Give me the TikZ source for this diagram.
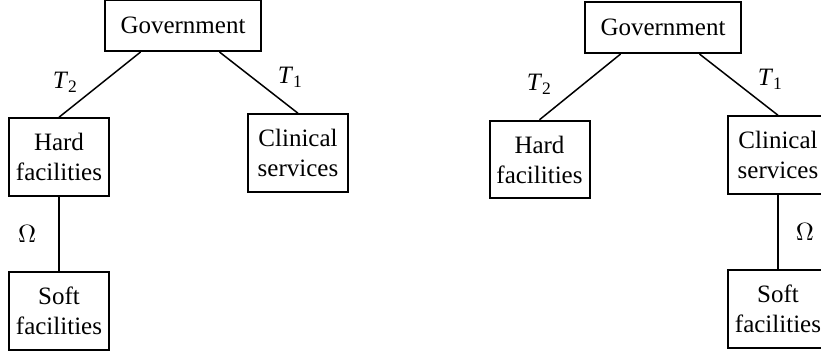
\documentclass[tikz,border=0pt]{standalone}
\usepackage{fontspec}
\setmainfont{Liberation Serif}
\tikzset{
  box/.style={draw, line width=0.8pt, align=center, minimum width=40pt, minimum height=31pt, inner sep=2pt},
  topbox/.style={draw, line width=0.8pt, minimum width=62.4pt, minimum height=20.4pt},
  link/.style={line width=0.6pt},
}
\newcommand{\Tlab}[1]{\textit{T}\textsubscript{#1}}

\begin{document}
\begin{tikzpicture}[x=0.4pt,y=-0.4pt]
    \useasboundingbox (0,0) rectangle (821,355);
    \clip (0,0) rectangle (821,355);

    % Left tree: soft facilities hang below hard facilities
    \node[topbox] (govL) at (183,25.5) {Government};
    \node[box] (hardL) at (59,157) {Hard\\facilities};
    \node[box] (clinL) at (298,153) {Clinical\\services};
    \node[box] (softL) at (59,311) {Soft\\facilities};

    \draw[link] (govL.212) -- (hardL.north) node[midway, left=5pt, yshift=1pt] {\Tlab{2}};
    \draw[link] (govL.324) -- (clinL.north) node[midway, right=4pt, yshift=2pt] {\Tlab{1}};
    \draw[link] (hardL.south) -- (softL.north) node[midway, left=5.5pt] {$\Omega$};

    % Right tree: soft facilities hang below clinical services
    \node[topbox] (govR) at (663,27.5) {Government};
    \node[box] (hardR) at (539.5,159.5) {Hard\\facilities};
    \node[box] (clinR) at (778,155) {Clinical\\services};
    \node[box] (softR) at (778,309) {Soft\\facilities};

    \draw[link] (govR.212) -- (hardR.north) node[midway, left=7.5pt, yshift=1pt] {\Tlab{2}};
    \draw[link] (govR.324) -- (clinR.north) node[midway, right=4pt, yshift=2pt] {\Tlab{1}};
    \draw[link] (clinR.south) -- (softR.north) node[midway, right=3.5pt] {$\Omega$};
\end{tikzpicture}
\end{document}
